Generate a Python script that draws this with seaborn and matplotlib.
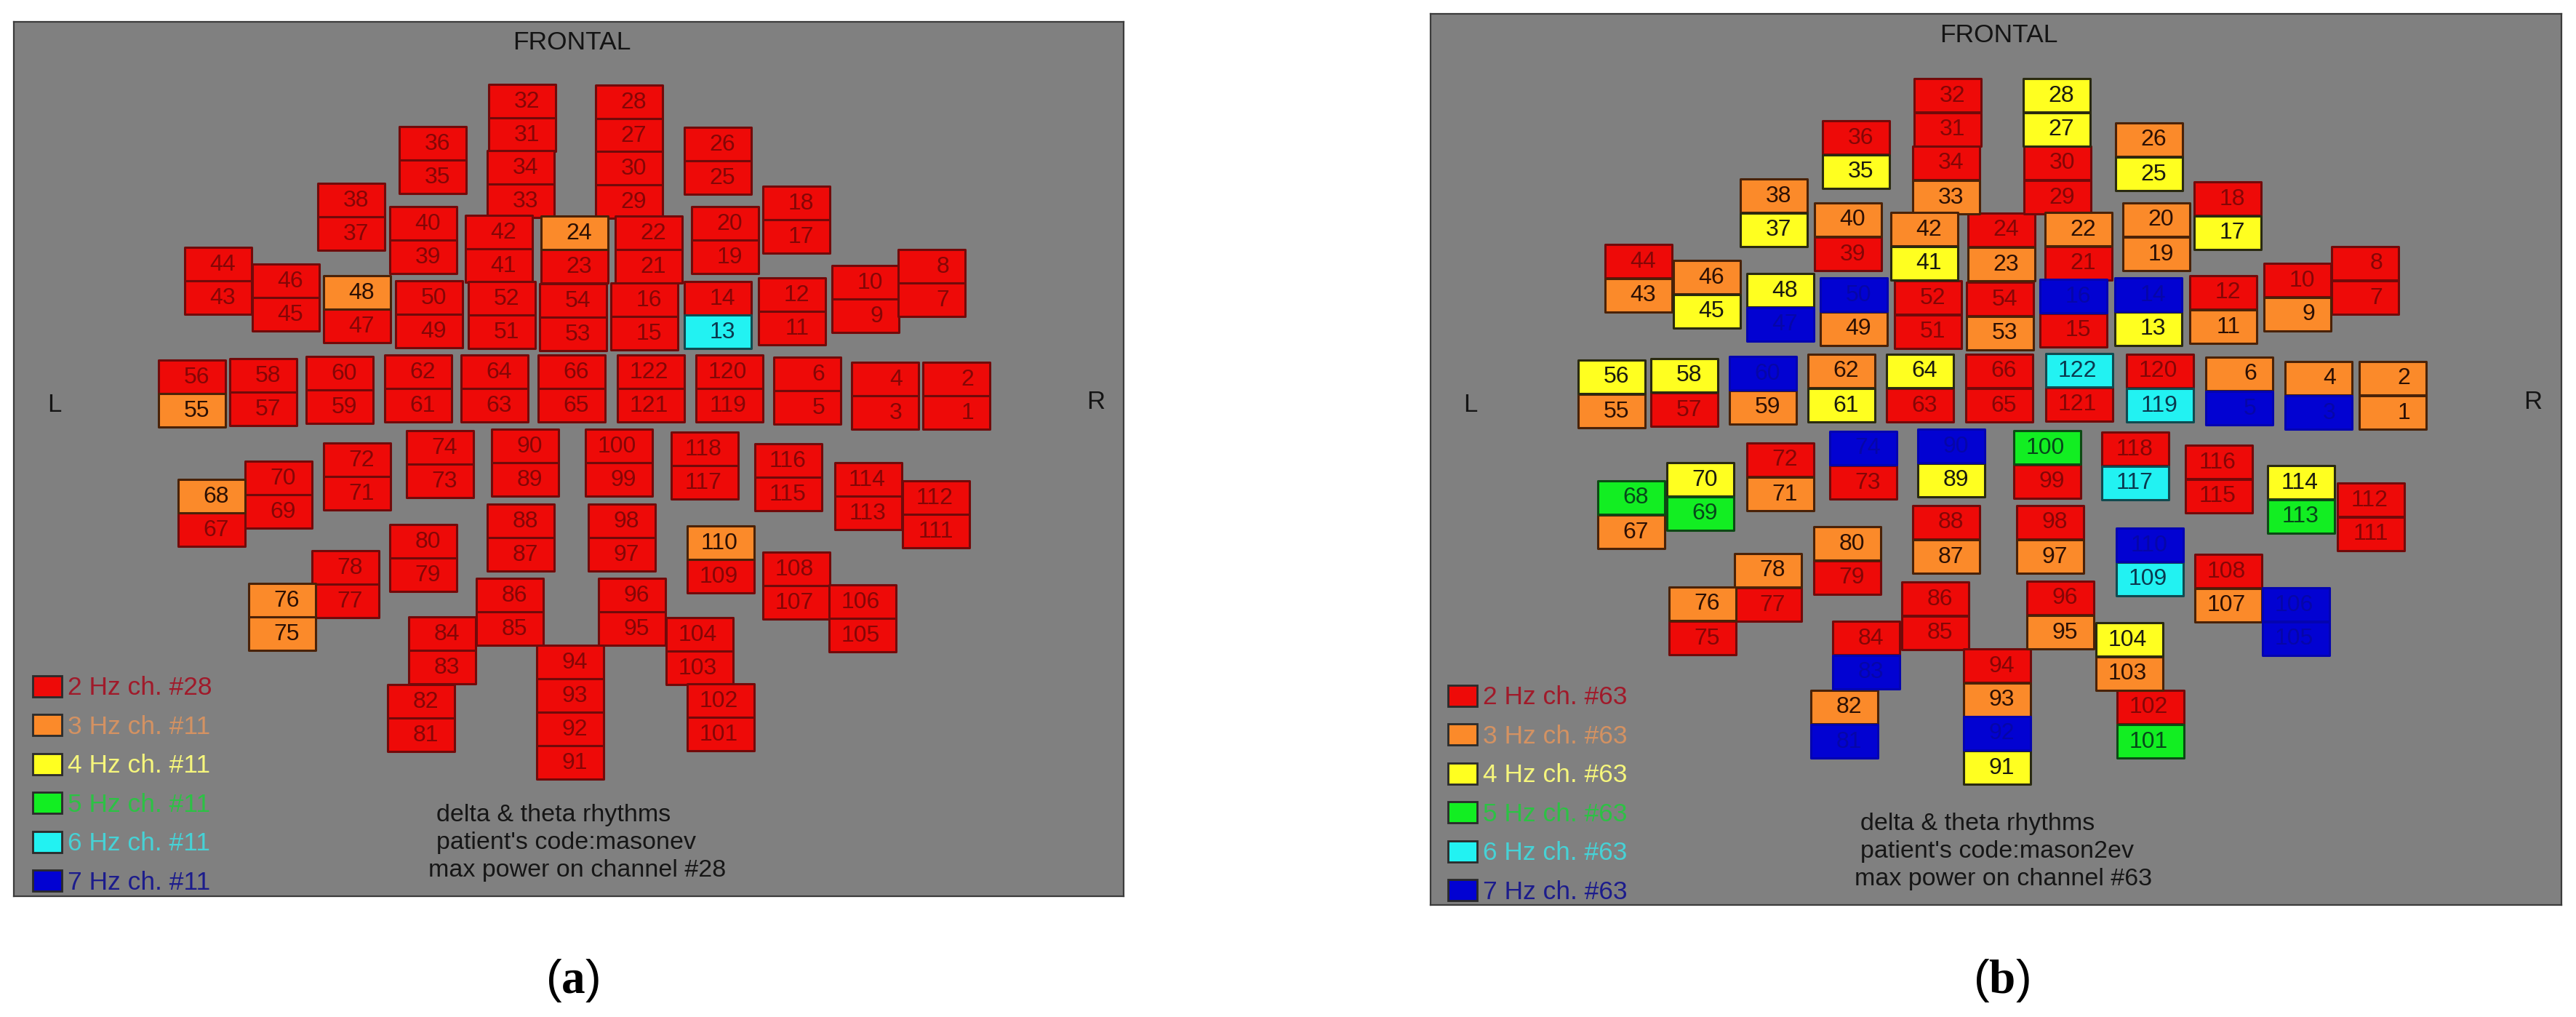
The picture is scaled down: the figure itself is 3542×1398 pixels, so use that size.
import matplotlib
matplotlib.use("Agg")
import matplotlib.pyplot as plt
from matplotlib.path import Path
from matplotlib.patches import Patch
import pandas as pd
import seaborn as sns

# ---------- data ----------
pair_top = [32, 34, 36, 38, 40, 42, 44, 46, 48, 50, 52, 56, 58, 60, 62, 64, 66, 24, 54,
            28, 30, 26, 18, 20, 22, 16, 14, 12, 10, 8, 122, 120, 6, 4, 2,
            74, 90, 72, 70, 68, 100, 118, 116, 114, 112, 88, 98, 80, 110, 78, 76, 108, 106,
            86, 96, 84, 104, 82, 102, 94, 92]
pair_bottom = [31, 33, 35, 37, 39, 41, 43, 45, 47, 49, 51, 55, 57, 59, 61, 63, 65, 23, 53,
               27, 29, 25, 17, 19, 21, 15, 13, 11, 9, 7, 121, 119, 5, 3, 1,
               73, 89, 71, 69, 67, 99, 117, 115, 113, 111, 87, 97, 79, 109, 77, 75, 107, 105,
               85, 95, 83, 103, 81, 101, 93, 91]

a_pair_x = [718, 716, 595, 483, 582, 686, 300, 393, 491, 590, 690, 264, 362, 467, 575, 680, 786, 790, 788,
            865, 865, 987, 1095, 997, 892, 886, 987, 1089, 1190, 1281, 895, 1003, 1110, 1217, 1315,
            605, 722, 491, 383, 291, 851, 969, 1084, 1194, 1287, 716, 855, 582, 991, 475, 388, 1095, 1186,
            701, 869, 608, 962, 579, 991, 784, 784]
a_pair_y = [162, 253, 220, 298, 330, 342, 386, 409, 425, 432, 433, 541, 539, 536, 534, 534, 534, 343, 436,
            163, 254, 221, 302, 330, 343, 435, 433, 428, 411, 389, 534, 534, 537, 544, 544,
            638, 636, 655, 680, 705, 636, 640, 656, 682, 707, 739, 739, 767, 769, 803, 848, 805, 850,
            841, 841, 894, 895, 987, 986, 933, 1025]
b_pair_x = [2678, 2676, 2552, 2439, 2541, 2646, 2253, 2347, 2448, 2549, 2651, 2216, 2316, 2424, 2532, 2640, 2749, 2752, 2750,
            2828, 2829, 2955, 3063, 2965, 2858, 2851, 2954, 3057, 3159, 3252, 2859, 2970, 3079, 3188, 3290,
            2562, 2683, 2448, 2338, 2243, 2815, 2936, 3051, 3164, 3260, 2676, 2819, 2540, 2956, 2431, 2341, 3064, 3157,
            2661, 2833, 2566, 2928, 2536, 2957, 2746, 2746]
b_pair_y = [154, 247, 212, 292, 325, 338, 382, 404, 422, 428, 432, 541, 539, 536, 533, 533, 533, 339, 434,
            154, 247, 215, 296, 325, 338, 430, 428, 425, 408, 385, 532, 533, 537, 543, 543,
            639, 636, 655, 682, 707, 638, 640, 658, 686, 710, 741, 741, 770, 772, 807, 853, 808, 854,
            846, 845, 900, 902, 995, 995, 938, 1031]

hz_values = [2, 3, 4, 5, 6, 7]
a_orange = [24, 48, 55, 68, 75, 76, 110]
a_cyan = [13]
b_orange = [33, 38, 40, 42, 46, 43, 49, 55, 59, 62, 22, 23, 53, 26, 20, 19, 11, 9, 6, 2, 1, 4,
            71, 67, 76, 78, 80, 87, 97, 82, 93, 95, 103, 107]
b_yellow = [28, 27, 35, 37, 41, 45, 48, 56, 58, 61, 64, 25, 17, 13, 70, 89, 114, 104, 91]
b_green = [68, 69, 100, 113, 101]
b_cyan = [122, 119, 117, 109]
b_blue = [47, 50, 60, 16, 14, 5, 3, 74, 90, 83, 81, 92, 110, 106, 105]

a_legend = ["2 Hz ch. #28", "3 Hz ch. #11", "4 Hz ch. #11", "5 Hz ch. #11", "6 Hz ch. #11", "7 Hz ch. #11"]
b_legend = ["2 Hz ch. #63", "3 Hz ch. #63", "4 Hz ch. #63", "5 Hz ch. #63", "6 Hz ch. #63", "7 Hz ch. #63"]
a_note = ["delta & theta rhythms", "patient's code:masonev", "max power on channel #28"]
b_note = ["delta & theta rhythms", "patient's code:mason2ev", "max power on channel #63"]

# ---------- styles ----------
sns.set_theme(style="white")
plt.rcParams["font.family"] = ["Liberation Sans", "DejaVu Sans"]
plt.rcParams["mathtext.fontset"] = "custom"
plt.rcParams["mathtext.rm"] = "Liberation Serif"
plt.rcParams["mathtext.bf"] = "Liberation Serif:bold"

FILL = {2: "#ee0a08", 3: "#fb8a2a", 4: "#ffff20", 5: "#12ee22", 6: "#22f2f2", 7: "#0202d2"}
EDGE = {2: "#720a0a", 3: "#4a2208", 4: "#2a2a10", 5: "#0c4a14", 6: "#104a50", 7: "#0404b0"}
INK = {2: "#840606", 3: "#2c1004", 4: "#1a1a10", 5: "#06481a", 6: "#0a3a50", 7: "#0606a8"}
LEGEND_INK = {2: "#a01a2a", 3: "#d49262", 4: "#f6f67c", 5: "#2cc244", 6: "#46d2d6", 7: "#1c1c8c"}
CELL = Path([(-1, -0.5), (1, -0.5), (1, 0.5), (-1, 0.5), (-1, -0.5)], closed=True)
CELL_SIZE = 4450

W, H = 3542, 1398
fig = plt.figure(figsize=(W / 100, H / 100), dpi=100, facecolor="white")


def cells(pair_x, pair_y, hz_of, half=23.5):
    rows = []
    for top, bot, x, y in zip(pair_top, pair_bottom, pair_x, pair_y):
        rows.append((top, x, y - half, hz_of(top)))
        rows.append((bot, x, y + half, hz_of(bot)))
    return pd.DataFrame(rows, columns=["channel", "x", "y", "hz"])


def panel(frame, df, legend, note, note_x, note_y, front, left, right, leg_anchor):
    x0, y0, x1, y1 = frame
    ax = fig.add_axes([x0 / W, 1 - y1 / H, (x1 - x0) / W, (y1 - y0) / H], facecolor="#808080")
    for hz in hz_values:
        sub = df[df.hz == hz]
        if len(sub):
            sns.scatterplot(data=sub, x="x", y="y", marker=CELL, s=CELL_SIZE, color=FILL[hz],
                            edgecolor=EDGE[hz], linewidth=2.2, ax=ax, legend=False, zorder=2)
    for c, x, y, hz in df.itertuples(index=False):
        ax.text(x + 24, y + 1, str(c), ha="right", va="center", fontsize=23, color=INK[hz], zorder=3)
    ax.set_xlim(x0, x1)
    ax.set_ylim(y1, y0)
    ax.set_xticks([])
    ax.set_yticks([])
    ax.set_xlabel("")
    ax.set_ylabel("")
    for s in ax.spines.values():
        s.set_visible(True)
        s.set_color("#3c3c3c")
        s.set_linewidth(1.6)
    ax.text(*front, "FRONTAL", ha="center", va="center", fontsize=25.5, color="#141414")
    ax.text(*left, "L", ha="center", va="center", fontsize=25, color="#141414")
    ax.text(*right, "R", ha="center", va="center", fontsize=25, color="#141414")
    for line, nx, ny in zip(note, note_x, note_y):
        ax.text(nx, ny, line, ha="left", va="center", fontsize=24.5, color="#161616")
    handles = [Patch(facecolor=FILL[h], edgecolor="#2a2a2a", linewidth=2.0, label=t)
               for h, t in zip(hz_values, legend)]
    leg = ax.legend(handles=handles, loc="lower left", bbox_to_anchor=leg_anchor,
                    bbox_transform=ax.transData, frameon=False, fontsize=25.5,
                    handlelength=1.12, handleheight=0.88, handletextpad=0.24,
                    labelspacing=0.56, borderpad=0, borderaxespad=0)
    for txt, h in zip(leg.get_texts(), hz_values):
        txt.set_color(LEGEND_INK[h])
    return ax


a_df = cells(a_pair_x, a_pair_y,
             lambda c: 3 if c in a_orange else 6 if c in a_cyan else 2, half=23)
b_df = cells(b_pair_x, b_pair_y,
             lambda c: 3 if c in b_orange else 4 if c in b_yellow else 5 if c in b_green
             else 6 if c in b_cyan else 7 if c in b_blue else 2)

panel((19, 30, 1545, 1232), a_df, a_legend, a_note, [600, 600, 589], [1120, 1158, 1196],
      (786, 58), (75, 556), (1507, 553), (45, 1230))
panel((1967, 19, 3522, 1244), b_df, b_legend, b_note, [2558, 2558, 2550], [1132, 1170, 1208],
      (2748, 48), (2022, 556), (3483, 553), (1991, 1243))

fig.text(787 / W, 1 - 1348 / H, r"($\mathbf{a}$)", ha="center", va="center", fontsize=47, color="black",
         math_fontfamily="custom")
fig.text(2752 / W, 1 - 1348 / H, r"($\mathbf{b}$)", ha="center", va="center", fontsize=47, color="black",
         math_fontfamily="custom")

fig.savefig("out.png", dpi=100, facecolor="white")
